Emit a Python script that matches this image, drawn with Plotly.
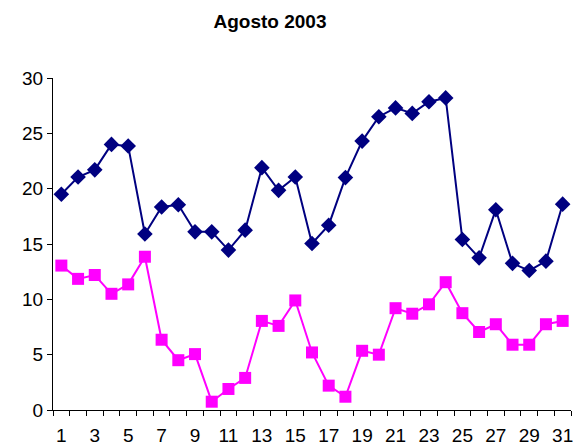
import plotly.graph_objects as go

days = list(range(1, 32))
tmax = [19.5, 21.05, 21.7, 24.0, 23.85, 15.9, 18.35, 18.55, 16.1, 16.1, 14.45,
        16.25, 21.9, 19.85, 21.05, 15.05, 16.7, 21.0, 24.3, 26.5, 27.3, 26.8,
        27.85, 28.2, 15.4, 13.75, 18.1, 13.25, 12.6, 13.45, 18.6]
tmin = [13.05, 11.85, 12.2, 10.5, 11.35, 13.85, 6.35, 4.5, 5.05, 0.75, 1.9,
        2.9, 8.05, 7.6, 9.9, 5.2, 2.2, 1.2, 5.35, 5.0, 9.2, 8.7, 9.55, 11.55,
        8.75, 7.05, 7.75, 5.9, 5.9, 7.75, 8.05]
xticks = list(range(1, 32, 2))
xticktext = [str(v) for v in xticks]
yticks = [0, 5, 10, 15, 20, 25, 30]

fig = go.Figure()
fig.add_trace(go.Scatter(x=days, y=tmax, mode="lines+markers", name="Máxima",
                         line=dict(color="#000080", width=2),
                         marker=dict(symbol="diamond", size=12, color="#000080")))
fig.add_trace(go.Scatter(x=days, y=tmin, mode="lines+markers", name="Mínima",
                         line=dict(color="#FF00FF", width=2),
                         marker=dict(symbol="square", size=12, color="#FF00FF")))

fig.update_layout(
    width=573, height=440,
    margin=dict(l=45, r=10, t=70, b=38),
    paper_bgcolor="white", plot_bgcolor="white",
    showlegend=False,
    font=dict(family="Liberation Sans, Arial, sans-serif", size=19, color="black"),
    title=dict(text="<b>Agosto 2003</b>", x=262/573, xanchor="center",
               y=1 - 13/440, yanchor="middle", yref="container",
               pad=dict(t=0, b=0, l=0, r=0),
               font=dict(size=19, color="black")),
    xaxis=dict(range=[0.5, 31.5], tickmode="array", tickvals=xticks, ticktext=xticktext,
               ticks="", showgrid=False, zeroline=False, showline=True,
               linecolor="black", linewidth=1, ticklabelstandoff=8, automargin=False,
               minor=dict(tick0=0.5, dtick=1, ticks="outside", ticklen=5,
                          tickcolor="black", showgrid=False)),
    yaxis=dict(range=[0, 30], tickmode="array", tickvals=yticks,
               ticks="outside", ticklen=5, tickcolor="black", automargin=False,
               showgrid=False, zeroline=False, showline=True,
               linecolor="black", linewidth=1),
)

fig.write_html("out.html")
